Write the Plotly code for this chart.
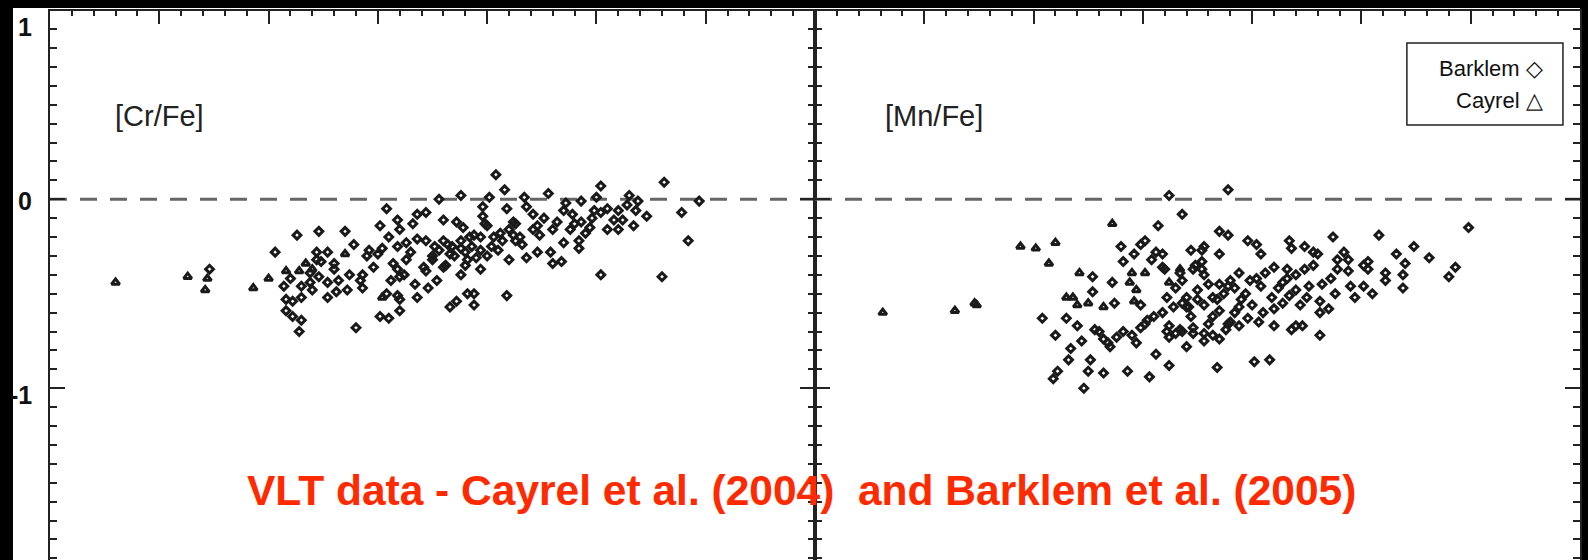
import plotly.graph_objects as go

# ---------------- data ([Fe/H], [X/Fe]) ----------------
cr_cayrel = [(-4.20, -0.44), (-3.87, -0.41), (-3.78, -0.42), (-3.79, -0.48), (-3.57, -0.47),
             (-3.50, -0.42), (-3.42, -0.38), (-3.36, -0.38), (-3.33, -0.34), (-3.30, -0.37),
             (-3.15, -0.29), (-2.98, -0.52)]

cr_barklem = [
    (-3.77, -0.37), (-3.47, -0.28), (-3.37, -0.19), (-3.27, -0.17), (-3.15, -0.17), (-3.28, -0.28),
    (-3.23, -0.28), (-3.26, -0.33), (-3.43, -0.46), (-3.42, -0.53), (-3.39, -0.54), (-3.35, -0.52),
    (-3.42, -0.59), (-3.39, -0.62), (-3.35, -0.64), (-3.36, -0.70), (-3.10, -0.68), (-3.31, -0.44),
    (-3.23, -0.44), (-3.23, -0.52), (-3.19, -0.49), (-3.18, -0.43), (-3.20, -0.37), (-3.11, -0.24),
    (-3.07, -0.47), (-2.99, -0.62), (-2.95, -0.63), (-2.90, -0.59), (-2.82, -0.52), (-2.73, -0.43),
    (-2.67, -0.57), (-2.64, -0.54), (-2.56, -0.56), (-2.56, -0.50), (-2.62, -0.40), (-2.69, -0.35),
    (-2.99, -0.14), (-2.90, -0.16), (-2.84, -0.13), (-2.95, -0.20), (-3.05, -0.30), (-3.02, -0.36),
    (-2.93, -0.34), (-2.87, -0.23), (-2.78, -0.22), (-2.90, -0.41), (-2.79, -0.36),
    (-2.46, 0.13), (-2.42, 0.05), (-2.62, 0.02), (-2.72, 0.00), (-2.49, 0.01), (-2.41, -0.05),
    (-2.52, -0.04), (-2.96, -0.05), (-2.91, -0.11), (-2.82, -0.08), (-2.78, -0.07), (-2.70, -0.11),
    (-2.64, -0.12), (-2.61, -0.15), (-2.52, -0.09), (-2.51, -0.13), (-2.38, -0.12), (-2.56, -0.19),
    (-2.53, -0.20), (-2.47, -0.20), (-2.43, -0.22), (-2.37, -0.22), (-2.48, -0.25), (-2.40, -0.32),
    (-2.59, -0.32), (-2.53, -0.37), (-2.67, -0.29), (-2.75, -0.32), (-2.78, -0.38), (-2.87, -0.32),
    (-2.91, -0.37), (-2.94, -0.43), (-2.96, -0.50), (-2.91, -0.51), (-2.90, -0.53), (-3.08, -0.43),
    (-3.07, -0.40), (-3.13, -0.40), (-3.04, -0.27), (-3.00, -0.29), (-2.98, -0.26), (-2.91, -0.25),
    (-2.82, -0.21), (-2.74, -0.25), (-2.70, -0.22), (-2.66, -0.25), (-2.62, -0.26), (-2.58, -0.20),
    (-2.53, -0.27), (-2.59, -0.50), (-2.41, -0.51), (-3.20, -0.34), (-3.27, -0.41), (-3.31, -0.39),
    (-3.28, -0.32), (-3.14, -0.48), (-3.35, -0.46), (-3.30, -0.48), (-3.40, -0.42),
    (-2.33, 0.01), (-2.22, 0.03), (-1.98, 0.07), (-1.69, 0.09), (-1.85, 0.02), (-1.81, -0.01),
    (-1.82, -0.06), (-1.77, -0.09), (-1.83, -0.14), (-1.90, -0.16), (-1.95, -0.16), (-1.92, -0.11),
    (-1.90, -0.06), (-1.98, -0.07), (-2.01, -0.06), (-2.07, -0.01), (-2.00, 0.01), (-2.14, -0.02),
    (-2.11, -0.08), (-2.07, -0.12), (-2.03, -0.15), (-2.12, -0.16), (-2.15, -0.23), (-2.08, -0.22),
    (-2.08, -0.26), (-1.98, -0.40), (-1.70, -0.41), (-1.61, -0.07), (-1.58, -0.22), (-1.53, -0.01),
    (-2.20, -0.16), (-2.20, -0.34), (-2.16, -0.33), (-2.21, -0.28), (-2.27, -0.28), (-2.32, -0.31),
    (-2.34, -0.24), (-2.38, -0.19), (-2.37, -0.13), (-2.29, -0.08), (-2.27, -0.14), (-2.29, -0.16),
    (-2.32, -0.04), (-2.50, -0.14),
    (-2.72, -0.27), (-2.65, -0.30), (-2.60, -0.28), (-2.55, -0.31), (-2.68, -0.24), (-2.62, -0.22),
    (-2.57, -0.25), (-2.50, -0.30), (-2.45, -0.27), (-2.44, -0.18), (-2.40, -0.16), (-2.35, -0.20),
    (-2.26, -0.19), (-2.24, -0.10), (-2.18, -0.12), (-2.15, -0.06), (-2.10, -0.13), (-2.05, -0.18),
    (-2.02, -0.10), (-1.95, -0.05), (-1.88, -0.11), (-1.86, -0.03), (-2.75, -0.30), (-2.85, -0.28),
    (-2.88, -0.40), (-2.70, -0.36), (-2.60, -0.35), (-2.83, -0.45), (-2.77, -0.47),
]

mn_cayrel = [(-4.19, -0.60), (-3.86, -0.59), (-3.77, -0.55), (-3.76, -0.56), (-3.56, -0.25),
             (-3.49, -0.26), (-3.40, -0.23), (-3.43, -0.34), (-3.14, -0.13), (-3.29, -0.39),
             (-3.35, -0.52), (-3.32, -0.52), (-3.30, -0.56), (-3.25, -0.55), (-3.18, -0.57),
             (-3.05, -0.39), (-3.06, -0.44), (-3.03, -0.48), (-2.99, -0.39), (-2.88, -0.44),
             (-3.04, -0.54), (-2.83, -0.37)]

mn_barklem = [
    (-2.88, 0.02), (-2.82, -0.08), (-2.93, -0.14), (-3.10, -0.25), (-3.09, -0.33), (-3.04, -0.29),
    (-3.01, -0.24), (-2.99, -0.22), (-2.96, -0.32), (-2.94, -0.28), (-2.91, -0.29), (-2.91, -0.36),
    (-2.78, -0.27), (-3.23, -0.41), (-3.23, -0.49), (-3.14, -0.44), (-3.13, -0.55), (-3.01, -0.56),
    (-3.46, -0.63), (-3.35, -0.63), (-3.30, -0.67), (-3.40, -0.72), (-3.33, -0.79), (-3.34, -0.85),
    (-3.28, -0.75), (-3.24, -0.85), (-3.25, -0.91), (-3.41, -0.95), (-3.39, -0.91), (-3.27, -1.00),
    (-3.18, -0.92), (-3.07, -0.91), (-2.97, -0.94), (-2.94, -0.82), (-2.88, -0.88), (-3.22, -0.69),
    (-3.18, -0.74), (-3.15, -0.78), (-3.12, -0.73), (-3.09, -0.70), (-3.05, -0.72), (-3.03, -0.76),
    (-3.01, -0.68), (-2.98, -0.64), (-2.95, -0.62), (-2.91, -0.60), (-2.89, -0.70), (-2.85, -0.71),
    (-2.82, -0.70), (-2.80, -0.78), (-2.89, -0.52), (-2.86, -0.57), (-2.80, -0.57), (-2.83, -0.39),
    (-2.82, -0.43), (-2.77, -0.37),
    (-2.61, 0.05), (-2.65, -0.17), (-2.61, -0.19), (-2.52, -0.22), (-2.48, -0.24), (-2.46, -0.29),
    (-2.33, -0.22), (-2.32, -0.26), (-2.26, -0.25), (-2.22, -0.28), (-2.20, -0.29), (-2.13, -0.20),
    (-1.92, -0.19), (-1.51, -0.15), (-1.76, -0.25), (-1.84, -0.29), (-1.69, -0.31), (-1.80, -0.34),
    (-1.57, -0.36), (-1.60, -0.41), (-1.81, -0.40), (-1.81, -0.47), (-1.89, -0.39), (-1.89, -0.43),
    (-1.95, -0.50), (-2.03, -0.52), (-2.05, -0.46), (-1.99, -0.46), (-1.97, -0.37), (-1.99, -0.35),
    (-1.97, -0.33), (-2.08, -0.28), (-2.06, -0.32), (-2.11, -0.32), (-2.11, -0.37), (-2.06, -0.38),
    (-2.14, -0.42), (-2.22, -0.35), (-2.26, -0.37), (-2.24, -0.46), (-2.19, -0.54), (-2.15, -0.58),
    (-2.19, -0.60), (-2.19, -0.72), (-2.30, -0.67), (-2.32, -0.69), (-2.27, -0.67), (-2.40, -0.67),
    (-2.34, -0.37), (-2.34, -0.42), (-2.33, -0.51), (-2.30, -0.48), (-2.28, -0.56), (-2.36, -0.55),
    (-2.40, -0.58), (-2.41, -0.52), (-2.44, -0.39), (-2.40, -0.36), (-2.48, -0.42), (-2.51, -0.43),
    (-2.46, -0.46), (-2.53, -0.50), (-2.56, -0.39), (-2.60, -0.43), (-2.61, -0.46), (-2.65, -0.45),
    (-2.66, -0.53), (-2.68, -0.52), (-2.72, -0.56), (-2.75, -0.48), (-2.73, -0.27), (-2.72, -0.25),
    (-2.65, -0.29), (-2.76, -0.35), (-2.73, -0.37), (-2.72, -0.40), (-2.90, -0.37), (-2.77, -0.71),
    (-2.72, -0.71), (-2.72, -0.75), (-2.65, -0.74), (-2.61, -0.66), (-2.56, -0.67), (-2.52, -0.63),
    (-2.49, -0.86), (-2.42, -0.85), (-2.66, -0.89), (-2.73, -0.33), (-2.56, -0.57), (-2.75, -0.53),
    (-2.65, -0.59), (-2.80, -0.52), (-2.82, -0.55), (-2.79, -0.57), (-2.99, -0.66), (-2.88, -0.67),
    (-2.83, -0.69), (-2.77, -0.68), (-2.68, -0.72), (-2.62, -0.69), (-2.60, -0.65), (-2.88, -0.73),
    (-3.20, -0.70), (-3.16, -0.76),
    (-2.70, -0.45), (-2.63, -0.50), (-2.58, -0.47), (-2.55, -0.53), (-2.50, -0.56), (-2.45, -0.60),
    (-2.38, -0.47), (-2.36, -0.44), (-2.30, -0.40), (-2.25, -0.52), (-2.18, -0.45), (-2.12, -0.50),
    (-2.68, -0.62), (-2.58, -0.60), (-2.47, -0.65), (-2.70, -0.66), (-2.78, -0.62), (-2.85, -0.47),
]

x_range = [-4.5, -1.0]
y_range = [-1.909, 0.996]
y_tick_labels = [(1, "1", -17), (0, "0", -2), (-1, "-1", -7)]
panel_names = ["[Cr/Fe]", "[Mn/Fe]"]

# ---------------- figure ----------------
fig = go.Figure()

dia = dict(symbol="diamond-open", size=6, color="#1a1a1a", line=dict(width=3, color="#1a1a1a"))
tri = dict(symbol="triangle-up-open", size=7, color="#1a1a1a", line=dict(width=3, color="#1a1a1a"))

for data, mk, xa, ya in [(cr_barklem, dia, "x", "y"), (cr_cayrel, tri, "x", "y"),
                         (mn_barklem, dia, "x2", "y2"), (mn_cayrel, tri, "x2", "y2")]:
    fig.add_trace(go.Scatter(x=[p[0] for p in data], y=[p[1] for p in data], mode="markers",
                             marker=mk, xaxis=xa, yaxis=ya, showlegend=False, cliponaxis=False))

xcommon = dict(range=x_range, side="top", showline=True, linewidth=2, linecolor="#222",
               ticks="inside", ticklen=13, tickwidth=2, tickcolor="#222", dtick=0.5, tick0=-4.5,
               minor=dict(dtick=0.1, tick0=-4.5, ticks="inside", ticklen=5, tickwidth=1.5, tickcolor="#222"),
               showticklabels=False, showgrid=False, zeroline=False, fixedrange=True)
ycommon = dict(range=y_range, showline=True, linewidth=2, linecolor="#222", mirror="ticks",
               ticks="inside", ticklen=15, tickwidth=2, tickcolor="#222", dtick=1, tick0=0,
               minor=dict(dtick=0.1, tick0=0, ticks="inside", ticklen=7, tickwidth=1.5, tickcolor="#222"),
               showticklabels=False, showgrid=False, zeroline=False, fixedrange=True)

fig.update_layout(
    width=1588, height=560,
    margin=dict(l=50, r=8, t=11, b=0),
    paper_bgcolor="black", plot_bgcolor="white",
    xaxis=dict(domain=[0, 0.5], anchor="y", **xcommon),
    xaxis2=dict(domain=[0.5, 1], anchor="y2", **xcommon),
    yaxis=dict(domain=[0, 1], anchor="x", **ycommon),
    yaxis2=dict(domain=[0, 1], anchor="x2", matches="y", **ycommon),
    font=dict(family="Liberation Sans, Arial, sans-serif", color="#222"),
)

shapes = [
    dict(type="rect", xref="paper", yref="paper", x0=-0.0242, x1=1.0, y0=-0.02, y1=1.0055,
         fillcolor="white", line=dict(width=0), layer="below"),
]
for xr, yr in [("x", "y"), ("x2", "y2")]:
    shapes.append(dict(type="line", xref=xr, yref=yr, x0=x_range[0], x1=x_range[1], y0=0, y1=0,
                       line=dict(color="#666", width=3, dash="17px,13px"), layer="below"))
shapes.append(dict(type="rect", xref="x2", yref="y2", x0=-1.792, x1=-1.078, y0=0.393, y1=0.827,
                   line=dict(color="#222", width=1.5), fillcolor="rgba(0,0,0,0)"))
fig.update_layout(shapes=shapes)

span = y_range[1] - y_range[0]
ann = []
for val, txt, ys in y_tick_labels:
    ann.append(dict(xref="paper", yref="paper", x=0, y=(val - y_range[0]) / span, text="<b>" + txt + "</b>",
                    showarrow=False, xanchor="right", yanchor="middle", xshift=-16, yshift=ys,
                    font=dict(size=25, color="#111", family="Liberation Sans, Arial")))
for xr, yr, name, xc in [("x", "y", panel_names[0], -4.0), ("x2", "y2", panel_names[1], -3.956)]:
    ann.append(dict(xref=xr, yref=yr, x=xc, y=0.44, text=name, showarrow=False,
                    font=dict(size=29, color="#222")))
ann.append(dict(xref="x2", yref="y2", x=-1.16, y=0.694, text="Barklem \u25C7", showarrow=False,
                xanchor="right", font=dict(size=22, color="#111")))
ann.append(dict(xref="x2", yref="y2", x=-1.16, y=0.525, text="Cayrel \u25B3", showarrow=False,
                xanchor="right", font=dict(size=22, color="#111")))
ann.append(dict(xref="paper", yref="paper", x=0.4915, y=0.1275, yshift=-26,
                text="<b>VLT data - Cayrel et al. (2004)  and Barklem et al. (2005)</b>",
                showarrow=False, font=dict(size=42.5, color="#ff2a00", family="Liberation Sans, Arial")))
fig.update_layout(annotations=ann)

fig.write_html("out.html")
